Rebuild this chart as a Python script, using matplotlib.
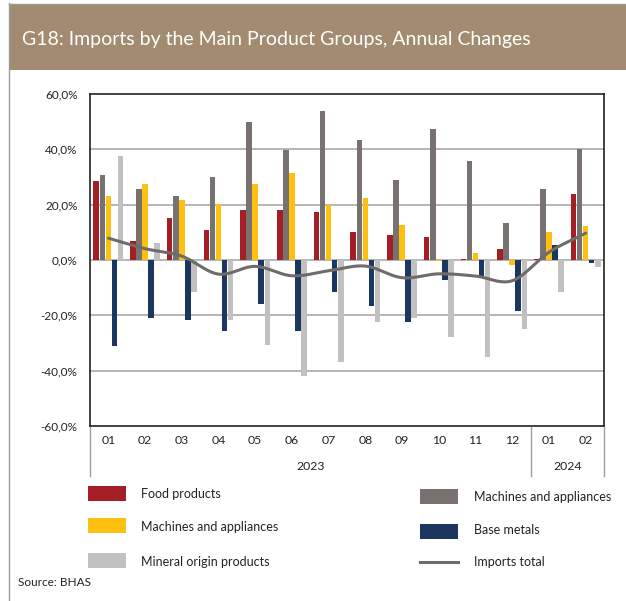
import numpy as np
import matplotlib
matplotlib.use("Agg")
import matplotlib.pyplot as plt
from matplotlib.patches import Rectangle
from matplotlib.lines import Line2D
import matplotlib.transforms as mtransforms

plt.rcParams['font.family'] = ['Lato', 'DejaVu Sans']

# ---------------- data ----------------
months = ["01", "02", "03", "04", "05", "06", "07", "08", "09", "10", "11", "12", "01", "02"]
years = ["2023", "2024"]
year_spans = [(0, 11), (12, 13)]

food = [28.7, 6.9, 15.3, 10.8, 17.9, 17.9, 17.3, 10.2, 8.9, 8.2, 0.5, 3.8, 0.4, 23.7]
machines_gray = [30.7, 25.5, 23.0, 30.0, 49.9, 39.6, 53.8, 43.5, 28.8, 47.4, 35.8, 13.4, 25.7, 40.3]
machines_yellow = [23.0, 27.5, 21.6, 20.4, 27.5, 31.4, 19.8, 22.4, 12.8, -0.5, 2.4, -1.8, 10.2, 12.2]
base_metals = [-31.2, -21.0, -21.6, -25.5, -15.9, -25.5, -11.5, -16.7, -22.4, -7.1, -5.7, -18.5, 5.6, -1.1]
mineral = [37.7, 6.3, -11.5, -21.6, -30.7, -41.9, -37.0, -22.4, -21.0, -27.9, -34.9, -24.8, -11.5, -2.7]
imports_total = [7.9, 4.1, 1.4, -5.1, -2.3, -5.7, -3.9, -2.2, -6.4, -5.0, -5.8, -7.5, 2.8, 9.7]

series_labels = ["Food products", "Machines and appliances", "Machines and appliances",
                 "Base metals", "Mineral origin products", "Imports total"]

# ---------------- style ----------------
C_RED = "#A51E25"
C_GRAY = "#77716F"
C_YELLOW = "#FDC010"
C_NAVY = "#1C375F"
C_LGRAY = "#C1C1C1"
C_LINE = "#6F6B6A"
C_BAND = "#A28B70"
C_GRID = "#A9A9A9"

W, H = 626, 601
fig = plt.figure(figsize=(W / 100, H / 100), dpi=100)

def fx(px):
    return px / W

def fy(py):
    return 1 - py / H

# outer frame lines
fig.add_artist(Line2D([fx(8.5), fx(8.5)], [fy(3), fy(601)], color="#9A9A9A", lw=1.0))
fig.add_artist(Line2D([fx(8.5), 1], [fy(3.5), fy(3.5)], color="#9A9A9A", lw=1.0))
# title band
fig.add_artist(Rectangle((fx(9), fy(70)), 1 - fx(9), fy(4) - fy(70), transform=fig.transFigure,
                         facecolor=C_BAND, edgecolor="none"))
fig.text(fx(22), fy(40), "G18: Imports by the Main Product Groups, Annual Changes",
         color="white", fontsize=14.0, va="center", ha="left")

# axes
L, R, T, B = 90, 604, 94, 426
ax = fig.add_axes([fx(L), fy(B), fx(R) - fx(L), fy(T) - fy(B)])
n = len(months)
x = np.arange(n)
bw = 0.165
series = [(food, C_RED), (machines_gray, C_GRAY), (machines_yellow, C_YELLOW),
          (base_metals, C_NAVY), (mineral, C_LGRAY)]
for k, (vals, col) in enumerate(series):
    ax.bar(x + (k - 2) * bw, vals, width=bw * 0.92, color=col, zorder=3, linewidth=0)

# smoothed total line (Catmull-Rom through the data points)
def catmull_rom(xs, ys, steps=20):
    xs = np.asarray(xs, float)
    ys = np.asarray(ys, float)
    P = np.column_stack([xs, ys])
    P = np.vstack([P[0] - (P[1] - P[0]), P, P[-1] + (P[-1] - P[-2])])
    out = []
    for i in range(1, len(P) - 2):
        p0, p1, p2, p3 = P[i - 1], P[i], P[i + 1], P[i + 2]
        for t in np.linspace(0, 1, steps, endpoint=False):
            t2, t3 = t * t, t * t * t
            pt = 0.5 * ((2 * p1) + (-p0 + p2) * t + (2 * p0 - 5 * p1 + 4 * p2 - p3) * t2
                        + (-p0 + 3 * p1 - 3 * p2 + p3) * t3)
            out.append(pt)
    out.append(P[-2])
    out = np.array(out)
    return out[:, 0], out[:, 1]

sx, sy = catmull_rom(x, imports_total)
ax.plot(sx, sy, color=C_LINE, lw=2.2, zorder=4, solid_capstyle="round")

ax.set_xlim(-0.5, n - 0.5)
ax.set_ylim(-60, 60)
yt = [-60, -40, -20, 0, 20, 40, 60]
ax.set_yticks(yt)
ax.set_yticklabels([("%.1f%%" % v).replace(".", ",") for v in yt], fontsize=8.5, color="#222222")
ax.tick_params(axis="y", length=0, pad=9)
ax.set_xticks([])
for v in [-40, -20, 0, 20, 40]:
    ax.axhline(v, color=C_GRID, lw=1.2, zorder=1)
for s in ax.spines.values():
    s.set_color("#222222")
    s.set_linewidth(1.2)

# multi-level category axis
tr = mtransforms.blended_transform_factory(ax.transData, fig.transFigure)
for i, m in enumerate(months):
    fig.text(i, fy(441), m, transform=tr, ha="center", va="center", fontsize=8.8, color="#222222")
for (a, b), yr in zip(year_spans, years):
    fig.text((a + b) / 2, fy(467), yr, transform=tr, ha="center", va="center", fontsize=8.8,
             color="#222222")
for xs_ in [-0.5, 11.5, n - 0.5]:
    fig.add_artist(Line2D([xs_, xs_], [fy(427), fy(476)], transform=tr, color="#A0A0A0", lw=1.0))

# legend
def patch(px, py, col):
    fig.add_artist(Rectangle((fx(px), fy(py + 15)), fx(38), 15 / H, transform=fig.transFigure,
                             facecolor=col, edgecolor="none"))

leg_fs = 9.0
patch(88, 486, C_RED)
fig.text(fx(141), fy(494), series_labels[0], fontsize=leg_fs, va="center", color="#222222")
patch(88, 518, C_YELLOW)
fig.text(fx(141), fy(527), series_labels[2], fontsize=leg_fs, va="center", color="#222222")
patch(88, 553, C_LGRAY)
fig.text(fx(141), fy(562), series_labels[4], fontsize=leg_fs, va="center", color="#222222")
patch(420, 489, C_GRAY)
fig.text(fx(474), fy(497), series_labels[1], fontsize=leg_fs, va="center", color="#222222")
patch(420, 524, C_NAVY)
fig.text(fx(474), fy(530), series_labels[3], fontsize=leg_fs, va="center", color="#222222")
fig.add_artist(Line2D([fx(420), fx(458)], [fy(562), fy(562)], color=C_LINE, lw=2.2))
fig.text(fx(474), fy(562), series_labels[5], fontsize=leg_fs, va="center", color="#222222")

fig.text(fx(18), fy(583), "Source: BHAS", fontsize=8.5, va="center", color="#222222")

fig.savefig("out.png", dpi=100)
